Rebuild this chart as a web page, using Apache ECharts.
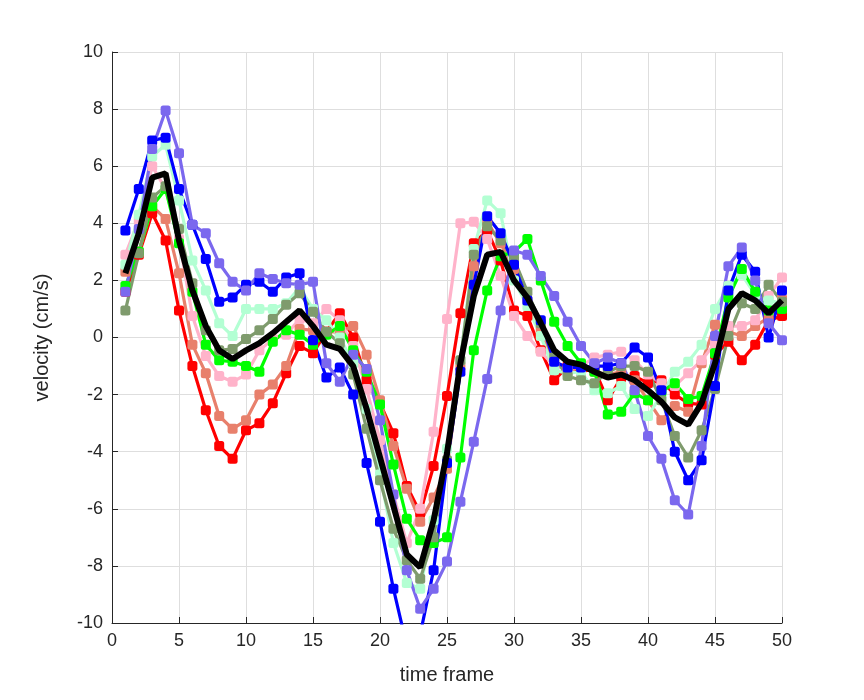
<!DOCTYPE html>
<html>
<head>
<meta charset="utf-8">
<script src="https://cdn.jsdelivr.net/npm/echarts@6/dist/echarts.min.js"></script>
<style>html,body{margin:0;padding:0;background:#fff;}#c{width:864px;height:700px;}</style>
</head>
<body>
<div id="c"></div>
<script>
const frames = Array.from({length: 50}, (_, i) => i + 1);

const red    = [1.6, 2.9, 4.35, 3.4, 0.95, -1.0, -2.55, -3.8, -4.25, -3.25, -3.0, -2.3, -1.25, -0.3, -0.55, 0.2, 0.85, 0.0, -1.5, -2.3, -3.35, -5.2, -6.15, -4.5, -2.05, 0.85, 3.3, 3.75, 2.7, 0.95, 0.75, -0.45, -1.5, -1.0, -1.2, -1.1, -2.2, -1.4, -1.35, -1.6, -1.5, -2.0, -2.3, -2.35, -0.6, -0.15, -0.8, -0.25, 0.6, 0.75];
const salmon = [2.3, 3.0, 4.6, 4.15, 2.25, -0.25, -1.25, -2.75, -3.2, -2.9, -2.0, -1.65, -1.0, 0.3, 0.25, 0.2, 0.2, 0.4, -0.6, -2.2, -3.8, -5.3, -6.45, -5.6, -4.6, -1.0, 2.5, 4.05, 3.3, 2.4, 1.3, 0.3, -0.9, -1.2, -1.0, -1.2, -1.3, -1.2, -1.5, -2.2, -2.9, -2.4, -2.6, -0.9, 0.45, 0.2, 0.05, 0.4, 0.7, 1.35];
const pink   = [2.9, 4.1, 6.0, 5.2, 3.45, 0.75, -0.65, -1.35, -1.55, -1.3, -0.45, -0.05, 0.1, 0.65, 0.5, 1.0, 0.6, -0.3, -1.8, -3.6, -5.5, -7.2, -6.0, -3.3, 0.65, 4.0, 4.05, 3.45, 2.15, 0.75, 0.05, -0.5, -1.0, -1.1, -1.0, -0.7, -0.6, -0.5, -0.8, -1.3, -1.6, -1.7, -1.25, -0.8, -0.2, 0.4, 0.4, 0.6, 1.45, 2.1];
const mint   = [2.55, 4.3, 6.35, 6.75, 4.8, 2.7, 1.65, 0.5, 0.05, 1.0, 1.0, 1.0, 1.2, 1.75, 1.0, 0.6, 0.0, -0.9, -2.5, -4.8, -7.2, -8.6, -8.8, -6.4, -3.9, -0.8, 3.1, 4.8, 4.35, 2.0, 1.1, 0.05, -1.15, -1.25, -1.2, -1.85, -1.95, -1.7, -2.5, -2.75, -2.0, -1.2, -0.85, -0.25, 1.0, 1.8, 2.2, 1.5, 1.3, 1.2];
const green  = [1.8, 3.0, 4.6, 5.2, 3.3, 1.6, -0.25, -0.8, -0.85, -1.0, -1.2, -0.15, 0.25, 0.1, -0.25, 0.1, 0.4, -0.45, -1.2, -2.35, -4.45, -6.35, -7.1, -7.2, -7.0, -4.2, -0.45, 1.65, 2.85, 3.0, 3.45, 2.0, 0.55, -0.3, -0.9, -1.2, -2.7, -2.6, -1.95, -2.2, -1.9, -1.6, -2.15, -2.05, -0.55, 1.4, 2.4, 1.6, 0.95, 1.0];
const olive  = [0.95, 2.95, 4.9, 5.3, 3.8, 1.9, 0.25, -0.45, -0.4, -0.05, 0.25, 0.65, 1.15, 1.55, 0.9, 0.2, -0.2, -1.3, -3.2, -5.0, -6.7, -7.8, -8.45, -7.0, -4.3, -0.8, 2.9, 3.9, 3.4, 2.75, 1.6, 0.5, -0.7, -1.35, -1.5, -1.6, -1.2, -1.0, -1.0, -1.2, -2.2, -3.45, -4.2, -3.25, -1.8, 0.05, 1.2, 1.0, 1.85, 1.25];
const blue   = [3.75, 5.2, 6.9, 7.0, 5.2, 3.95, 2.75, 1.25, 1.4, 1.85, 1.95, 1.6, 2.1, 2.25, -0.1, -1.4, -1.05, -2.0, -4.4, -6.45, -8.8, -10.8, -10.4, -8.15, -4.4, -1.2, 1.85, 4.25, 3.65, 2.55, 1.3, 0.6, -0.85, -1.05, -1.05, -1.0, -1.0, -0.9, -0.35, -0.7, -1.85, -4.0, -5.0, -4.3, -1.7, 1.65, 2.9, 2.3, 0.0, 1.65];
const purple = [1.6, 3.8, 6.6, 7.95, 6.45, 3.95, 3.65, 2.6, 1.95, 1.65, 2.25, 2.05, 1.9, 1.85, 1.95, -0.9, -1.55, -0.6, -1.1, -2.9, -5.5, -8.15, -9.5, -8.8, -7.85, -5.75, -3.65, -1.45, 0.95, 3.05, 2.9, 2.15, 1.45, 0.55, -0.3, -0.9, -0.7, -0.9, -1.85, -3.45, -4.25, -5.7, -6.2, -3.8, 0.05, 2.5, 3.15, 2.0, 0.5, -0.1];
const meanLine = [2.25, 3.65, 5.6, 5.75, 3.4, 1.65, 0.4, -0.45, -0.75, -0.45, -0.2, 0.15, 0.55, 0.95, 0.4, -0.25, -0.4, -1.0, -2.5, -4.2, -5.9, -7.6, -8.05, -6.4, -4.05, -0.9, 1.45, 2.9, 3.0, 2.0, 1.4, 0.5, -0.45, -0.85, -0.95, -1.2, -1.4, -1.3, -1.5, -1.85, -2.25, -2.8, -3.05, -2.3, -0.9, 1.0, 1.55, 1.3, 0.85, 1.3];

const xTicks = [0, 5, 10, 15, 20, 25, 30, 35, 40, 45, 50];
const yTicks = [-10, -8, -6, -4, -2, 0, 2, 4, 6, 8, 10];

const seriesDefs = [
  {name: 'red', data: red, color: '#FF0000'},
  {name: 'salmon', data: salmon, color: '#E8806C'},
  {name: 'pink', data: pink, color: '#FFB3CA'},
  {name: 'mint', data: mint, color: '#B3FFD3'},
  {name: 'green', data: green, color: '#00FF00'},
  {name: 'olive', data: olive, color: '#7F9B6D'},
  {name: 'blue', data: blue, color: '#0000FF'},
  {name: 'purple', data: purple, color: '#7B68EE'}
];

const FONT = 'Liberation Sans, Arial, Helvetica, sans-serif';
const series = seriesDefs.map(s => ({
  name: s.name,
  type: 'line',
  data: frames.map((f, i) => [f, s.data[i]]),
  symbol: 'roundRect',
  symbolSize: 10,
  showSymbol: true,
  clip: true,
  lineStyle: {color: s.color, width: 3.2},
  itemStyle: {color: s.color},
  animation: false,
  silent: true
}));
series.push({
  name: 'mean',
  type: 'line',
  data: frames.map((f, i) => [f, meanLine[i]]),
  showSymbol: false,
  symbol: 'none',
  clip: true,
  lineStyle: {color: '#000000', width: 6},
  itemStyle: {color: '#000000'},
  animation: false,
  z: 10
});

const chart = echarts.init(document.getElementById('c'));
chart.setOption({
  animation: false,
  backgroundColor: '#ffffff',
  grid: {left: 112, right: 82, top: 52, bottom: 77, containLabel: false},
  xAxis: {
    type: 'value', min: 0, max: 50, interval: 5,
    name: 'time frame', nameLocation: 'middle', nameGap: 42,
    nameTextStyle: {fontFamily: FONT, fontSize: 20, color: '#262626'},
    axisLine: {show: true, onZero: false, lineStyle: {color: '#262626', width: 1}},
    axisTick: {show: true, inside: true, length: 6, lineStyle: {color: '#262626'}},
    axisLabel: {fontFamily: FONT, fontSize: 18, color: '#262626', margin: 9,
      formatter: v => xTicks.includes(v) ? String(v) : ''},
    splitLine: {show: true, lineStyle: {color: '#dedede', width: 1}}
  },
  yAxis: {
    type: 'value', min: -10, max: 10, interval: 2,
    name: 'velocity (cm/s)', nameLocation: 'middle', nameGap: 60, nameRotate: 90,
    nameTextStyle: {fontFamily: FONT, fontSize: 20, color: '#262626'},
    axisLine: {show: true, onZero: false, lineStyle: {color: '#262626', width: 1}},
    axisTick: {show: true, inside: true, length: 6, lineStyle: {color: '#262626'}},
    axisLabel: {fontFamily: FONT, fontSize: 18, color: '#262626', margin: 9,
      formatter: v => yTicks.includes(v) ? String(v) : ''},
    splitLine: {show: true, lineStyle: {color: '#dedede', width: 1}}
  },
  series: series
});
</script>
</body>
</html>
